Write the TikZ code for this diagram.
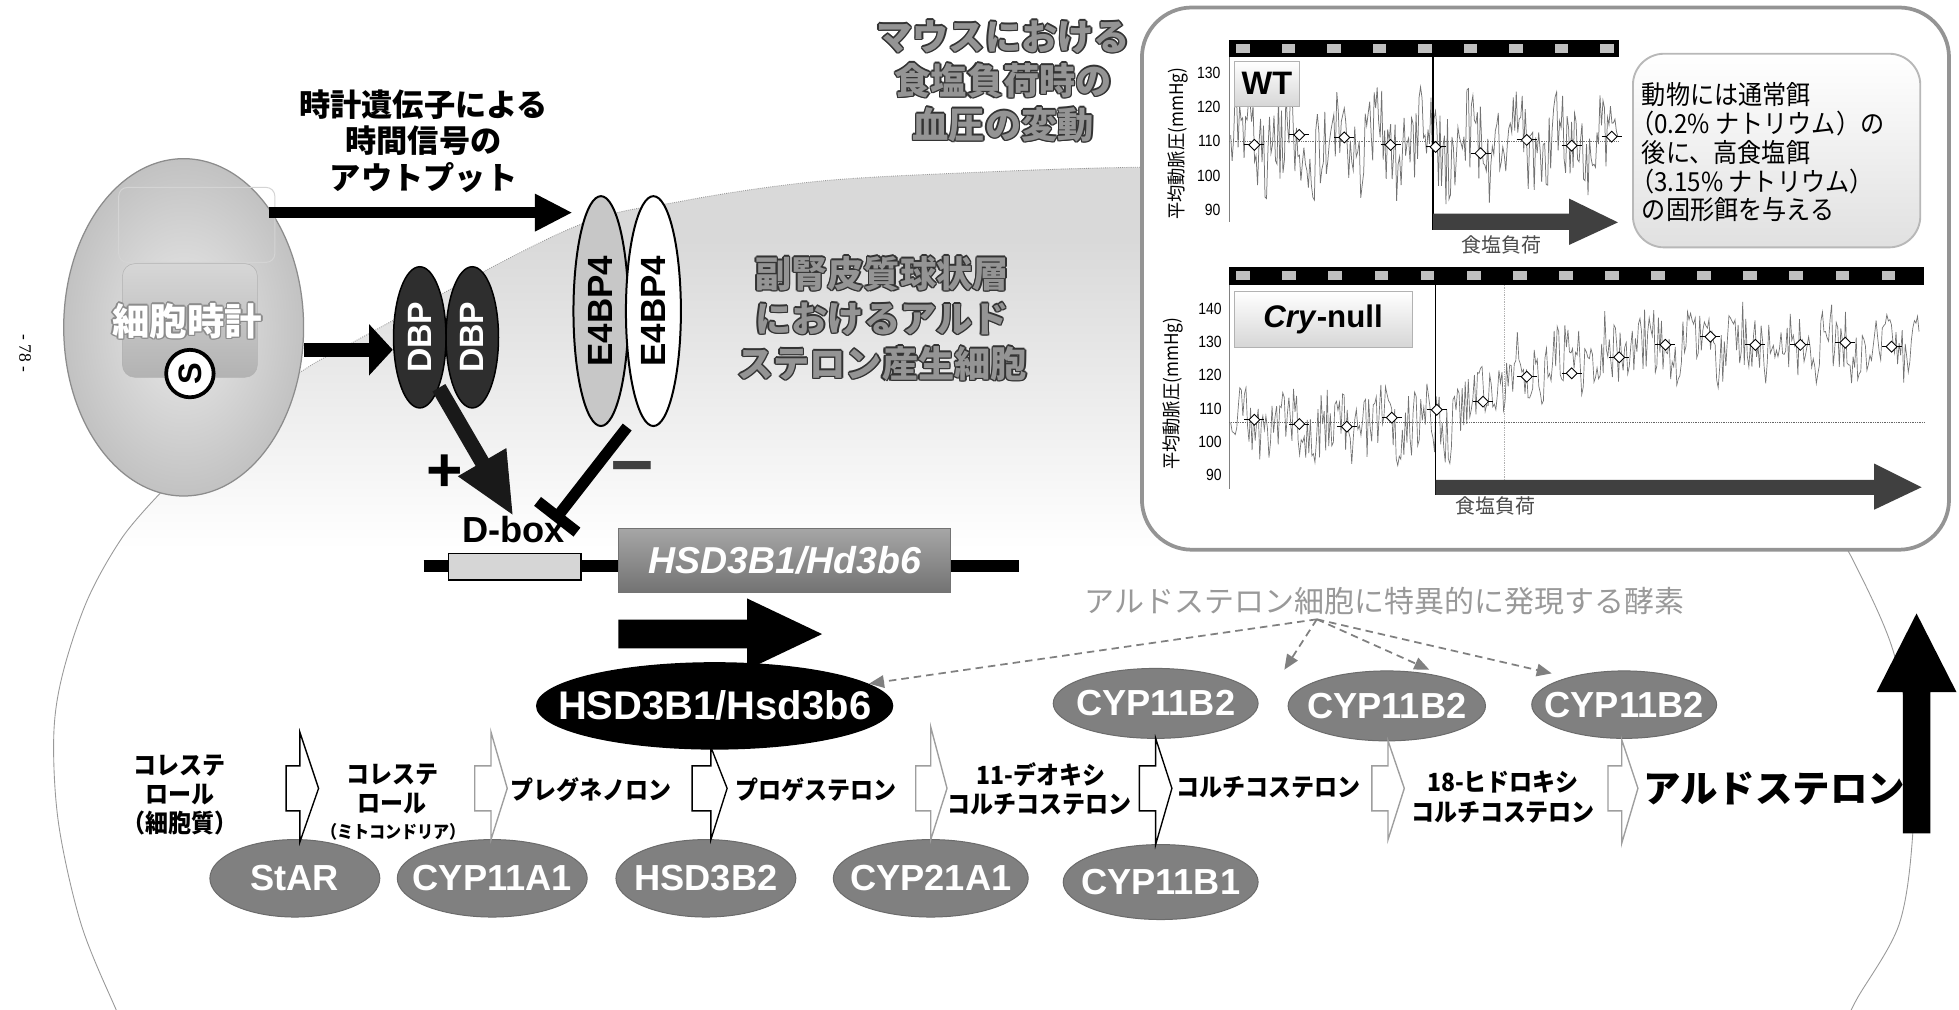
\documentclass[tikz,border=0pt]{standalone}
\usepackage{fontspec}
\setmainfont{Liberation Sans}
\newfontfamily\jp{Noto Sans CJK JP}
\newfontfamily\jpc{Noto Sans CJK JP}[FakeStretch=0.92]
\newfontfamily\latc{Liberation Sans}[FakeStretch=0.86]
\newfontfamily\pageserif{Liberation Serif}
\usetikzlibrary{arrows.meta,shapes.geometric,calc}

\newcommand{\fsz}[1]{\fontsize{#1}{#1}\selectfont}

% text with a thin coloured rim: #1 font, #2 fill colour, #3 rim colour, #4 name, #5 position, #6 text
\newcommand{\outlinedtext}[6]{%
  \foreach \k/\dx/\dy in {a/-1.2/0,b/1.2/0,c/0/-1.2,d/0/1.2,e/-0.85/-0.85,f/0.85/-0.85,g/-0.85/0.85,h/0.85/0.85}{%
    \node[font=#1, text=#3, align=center, inner sep=0pt] (#4-\k) at ($(#5)+(\dx,\dy)$) {#6};}%
  \node[font=#1, text=#2, align=center, inner sep=0pt] (#4) at (#5) {#6};}

% open block arrow of one synthesis step: #1 tail x, #2 head base x, #3 tip x, #4 head top y, #5 head bottom y, #6 colour
\newcommand{\steparrow}[6]{%
  \draw[draw=#6, fill=white, line width=1.1pt] (#1,613) -- (#2,613) -- (#2,#4) -- (#3,631) -- (#2,#5) -- (#2,649) -- (#1,649) -- cycle;}

\begin{document}
\begin{tikzpicture}[x=1pt, y=-1pt,
  cellline/.style={draw=black!40, line width=0.7pt},
  enz/.style={ellipse, fill=black!50, draw=black!58, line width=0.8pt, inner sep=0pt},
  enztext/.style={font=\bfseries\fsz{29}, text=white, inner sep=0pt},
  steplbl/.style={font=\jpc\bfseries\fsz{20}, inner sep=0pt},
  fatline/.style={draw=black, line width=9pt},
  dasharrow/.style={draw=black!50, line width=1.4pt, dash pattern=on 6pt off 4pt, -{Triangle[length=12pt,width=10pt,fill=black!50]}},
  ticklbl/.style={font=\latc\fsz{13}, anchor=east, inner sep=0pt},
  ylbl/.style={font=\jpc\fsz{15}, rotate=90, inner sep=0pt},
  bpmark/.style={diamond, draw=black, fill=white, line width=0.7pt, minimum size=9pt, inner sep=0pt},
  saltlbl/.style={font=\jp\fsz{16}, text=black!70, inner sep=0pt},
  dbpnode/.style={ellipse, minimum width=42pt, minimum height=113pt, inner sep=0pt, fill=black!82, draw=black, line width=1.2pt},
  e4node/.style={ellipse, minimum width=44pt, minimum height=184pt, inner sep=0pt, draw=black, line width=1.6pt},
  vlabel/.style={rotate=90, font=\bfseries\fsz{27}, inner sep=0pt}
]

\useasboundingbox (0,0) rectangle (1568,808);
\fill[white] (0,0) rectangle (1568,808);

% ---------- adrenal cell body ----------
\begin{scope}
  \clip plot[smooth cycle, tension=0.55] coordinates {(546,161) (656,145) (780,138) (903,134) (1100,136) (1300,170) (1430,300) (1483,448) (1515,520) (1530,600) (1531,667) (1520,740) (1486,800) (1400,950) (786,1050) (150,950) (92,806) (65,740) (47,660) (43,590) (50,540) (70,480) (98,430) (128,395) (180,335) (240,298) (275,278) (454,184)};
  \fill[black!15] (0,100) rectangle (1568,190);
  \shade[top color=black!15, bottom color=white] (0,190) rectangle (1568,440);
\end{scope}
\draw[cellline] plot[smooth, tension=0.55] coordinates {(104,830) (92,806) (65,740) (47,660) (43,590) (50,540) (70,480) (98,430) (128,395)};
\draw[cellline, densely dotted] plot[smooth, tension=0.55] coordinates {(128,395) (180,335) (240,298) (275,278) (454,184) (546,161) (656,145) (780,138) (903,134) (1000,134)};
\draw[cellline] plot[smooth, tension=0.55] coordinates {(1465,420) (1483,448) (1515,520) (1530,600) (1531,667) (1520,740) (1486,800) (1474,825)};

% page number
\node[font=\pageserif\fsz{14}, rotate=-90] (pgno) at (20,283) {- 78 -};

% ---------- cellular clock ----------
\node[ellipse, minimum width=192pt, minimum height=270pt, inner sep=0pt, draw=black!45, line width=1pt, inner color=black!8, outer color=black!24] (clock) at (147,262) {};
\draw[black!17, line width=0.8pt, rounded corners=7pt] (95,150) rectangle (220,210);
\node[rectangle, rounded corners=10pt, minimum width=108pt, minimum height=91pt, inner sep=0pt, draw=black!30, top color=black!16, bottom color=black!30] (clockbox) at (152,256.5) {};
\outlinedtext{\jp\bfseries\fsz{30}}{white}{black!45}{clocktxt}{150,257}{細胞時計}
\node[circle, draw=black, line width=3pt, fill=white, minimum size=38pt, inner sep=0pt, font=\bfseries\fsz{26}, rotate=90] (scirc) at (152,299) {S};

% ---------- titles ----------
\node[font=\jp\bfseries\fontsize{25}{29.5}\selectfont, align=center, inner sep=0pt] (t1) at (339,113) {時計遺伝子による\\時間信号の\\アウトプット};
\outlinedtext{\jp\bfseries\fontsize{29}{35.3}\selectfont}{black!42}{black!80}{t2}{803,65}{マウスにおける\\食塩負荷時の\\血圧の変動}
\outlinedtext{\jp\bfseries\fontsize{29}{36}\selectfont}{black!42}{black!80}{t3}{706,255}{副腎皮質球状層\\におけるアルド\\ステロン産生細胞}

% ---------- clock output factors ----------
\node[dbpnode] (dbp1) at (336,270) {};
\node[dbpnode] (dbp2) at (378,270) {};
\node[vlabel, text=white] (dbp1t) at (dbp1) {DBP};
\node[vlabel, text=white] (dbp2t) at (dbp2) {DBP};

\node[e4node, fill=black!22] (e4a) at (481,249) {};
\node[e4node, fill=white] (e4b) at (523,249) {};
\node[vlabel, font=\bfseries\fsz{28}] (e4at) at (e4a) {E4BP4};
\node[vlabel, font=\bfseries\fsz{28}] (e4bt) at (e4b) {E4BP4};

\draw[fatline, -{Triangle[length=30pt,width=28pt]}] ([yshift=-4pt]clock.north east) -- ([yshift=-4pt]clock.north east -| e4a.west);
\draw[fatline, line width=11pt, -{Triangle[length=19pt,width=40pt]}] ([yshift=-18pt]clock.east) -- ([yshift=-18pt]clock.east -| dbp1.west);

% ---------- D-box regulation ----------
\node[font=\bfseries\fsz{29}, inner sep=0pt] (dboxlbl) at (411,424) {D-box};
\node[font=\bfseries\fsz{50}, inner sep=0pt] (plus) at (356,379) {+};
\node[font=\bfseries\fsz{60}, text=black!75, inner sep=0pt] (minus) at (506,381) {−};
\draw[draw=black!90, line width=12pt, -{Triangle[length=50pt,width=41pt]}] (dbp1.south east) -- (dboxlbl.north);
\draw[line width=9pt, -{Bar[width=40pt]}] ($(e4a.south)!0.5!(e4b.south)$) -- ([xshift=-9pt,yshift=-4pt]dboxlbl.north east);

% ---------- gene ----------
\coordinate (dnaL) at (339,453);
\coordinate (dnaR) at (816,453);
\draw[line width=9pt] (dnaL) -- (dnaR);
\node[draw=black, line width=1.3pt, fill=black!16, minimum width=106pt, minimum height=21pt, inner sep=0pt] (dbox) at (412,453.5) {};
\node[draw=black!55, line width=1pt, top color=black!35, bottom color=black!55, minimum width=266pt, minimum height=51pt, inner sep=0pt] (gene) at (628,448.5) {};
\node[font=\bfseries\itshape\fsz{30}, text=white, inner sep=0pt] (genet) at (gene) {HSD3B1/Hd3b6};
\fill[black] (495,496) -- (598,496) -- (598,479) -- (658,507.5) -- (598,536) -- (598,519) -- (495,519) -- cycle;

\node[ellipse, fill=black, minimum width=286pt, minimum height=70pt, inner sep=0pt] (hsd3b1) at (572,565) {};
\node[font=\bfseries\fsz{32}, text=white, inner sep=0pt] (hsd3b1t) at (hsd3b1) {HSD3B1/Hsd3b6};

% ---------- zona glomerulosa specific enzymes ----------
\node[font=\jp\fsz{24}, text=black!40] (enzlbl) at (1108,481) {アルドステロン細胞に特異的に発現する酵素};
\node[enz, minimum width=164pt, minimum height=56pt] (b2a) at (925,563) {};
\node[enz, minimum width=158pt, minimum height=56pt] (b2b) at (1110,565) {};
\node[enz, minimum width=148pt, minimum height=54pt] (b2c) at (1300,564) {};
\node[enztext] (b2at) at (b2a) {CYP11B2};
\node[enztext] (b2bt) at (b2b) {CYP11B2};
\node[enztext] (b2ct) at (b2c) {CYP11B2};
\coordinate (hub) at ([xshift=-54pt]enzlbl.south);
\coordinate (tb1) at (1028,536);
\coordinate (tb2) at (1144,536);
\coordinate (tb3) at (1242,539);
\draw[dasharrow] (hub) -- (hsd3b1);
\draw[dasharrow] (hub) -- (tb1);
\draw[dasharrow] (hub) -- (tb2);
\draw[dasharrow] (hub) -- (tb3);

% ---------- steroid pathway ----------
\node[enz, minimum width=136pt, minimum height=62pt] (star) at (236,703) {};
\node[enz, minimum width=152pt, minimum height=62pt] (cyp11a1) at (394,703) {};
\node[enz, minimum width=144pt, minimum height=62pt] (hsd3b2) at (565,703) {};
\node[enz, minimum width=156pt, minimum height=62pt] (cyp21a1) at (745,703) {};
\node[enz, minimum width=156pt, minimum height=60pt] (cyp11b1) at (929,706) {};
\node[enztext] (start) at (star) {StAR};
\node[enztext] (cyp11a1t) at (cyp11a1) {CYP11A1};
\node[enztext] (hsd3b2t) at (hsd3b2) {HSD3B2};
\node[enztext] (cyp21a1t) at (cyp21a1) {CYP21A1};
\node[enztext] (cyp11b1t) at (cyp11b1) {CYP11B1};

\steparrow{229}{240}{255}{586}{674}{black}
\steparrow{380}{393}{406}{586}{672}{black!38}
\steparrow{554}{569}{582}{598}{672}{black}
\steparrow{733}{745}{758}{582}{672}{black!38}
\steparrow{912}{925}{938}{591}{676}{black}
\steparrow{1098}{1111}{1124}{593}{672}{black!38}
\steparrow{1287}{1298}{1311}{592}{675}{black!38}

\node[steplbl] (s0a) at (144,613) {コレステ};
\node[steplbl] (s0b) at (144,636) {ロール};
\node[steplbl] (s0c) at (144,659) {（細胞質）};
\node[steplbl] (s1a) at (314,620) {コレステ};
\node[steplbl] (s1b) at (314,643) {ロール};
\node[steplbl, font=\jpc\bfseries\fsz{14}] (s1c) at (315,666) {（ミトコンドリア）};
\node[steplbl] (s2) at (473,632) {プレグネノロン};
\node[steplbl] (s3) at (653,632) {プロゲステロン};
\node[steplbl] (s4a) at (833,620) {11-デオキシ};
\node[steplbl] (s4b) at (832,644) {コルチコステロン};
\node[steplbl] (s5) at (1015,630) {コルチコステロン};
\node[steplbl] (s6a) at (1203,626) {18-ヒドロキシ};
\node[steplbl] (s6b) at (1203,650) {コルチコステロン};
\node[font=\jp\bfseries\fsz{30}, inner sep=0pt] (aldo) at (1420,631) {アルドステロン};

\fill[black] (1523,667) -- (1523,554) -- (1502,554) -- (1534,491) -- (1566,554) -- (1545,554) -- (1545,667) -- cycle;

% ---------- blood pressure panel ----------
\node[rectangle, rounded corners=40pt, draw=black!42, line width=3pt, fill=white, minimum width=646pt, minimum height=434pt, inner sep=0pt] (panel) at (1237,223) {};

% wild type
\fill[black] (984,32) rectangle (1296,46);
\foreach \i in {0,...,8} {\fill[black!25] ({995+36.4*\i-5.5},35.5) rectangle ({995+36.4*\i+5.5},42.5);}
\draw[black!50, line width=0.8pt] (984,46) -- (984,178);
\node[ticklbl] (wt130) at (977,58) {130};
\node[ticklbl] (wt120) at (977,85.5) {120};
\node[ticklbl] (wt110) at (977,113) {110};
\node[ticklbl] (wt100) at (977,140.5) {100};
\node[ticklbl] (wt90) at (977,168) {90};
\node[ylbl] (wty) at (943,115) {平均動脈圧(mmHg)};
\draw[densely dotted, black!55] (984,113) -- (1296,113);
\pgfmathsetseed{7}
\draw[black!55, line width=0.6pt] plot[domain=985:1295, samples=260] (\x, {113 - 2.75*(-1 + 5*sin(9.89*(\x-985)) + 12.5*rand)});
\node[rectangle, draw=black!30, top color=white, bottom color=black!16, minimum width=52pt, minimum height=36pt, inner sep=0pt] (wtbox) at (1014,67) {};
\node[font=\bfseries\fsz{26}, inner sep=0pt] (wtt) at (wtbox) {WT};
\draw[black, line width=1pt] (1147,46) -- (1147,184);
\fill[black!75] (1147,171) -- (1256,171) -- (1256,159) -- (1295,178) -- (1256,196) -- (1256,184) -- (1147,184) -- cycle;
\node[saltlbl] (wtsalt) at (1202,196) {食塩負荷};
\foreach \x/\y [count=\n] in {1004/116, 1040/108, 1076/110, 1113/116, 1149/117.6, 1185/122.7, 1222/112, 1258/116.6, 1290/109.4} {
  \draw[black, line width=0.8pt] (\x-8,\y) -- (\x+8,\y);
  \node[bpmark] (wtm\n) at (\x,\y) {};}

\node[rectangle, rounded corners=25pt, draw=black!28, line width=1.5pt, top color=white, bottom color=black!12, minimum width=230pt, minimum height=155pt, inner sep=0pt] (info) at (1422,120.5) {};
\node[font=\jpc\fontsize{21}{23}\selectfont, align=left, anchor=west, inner sep=0pt] (infot) at (1314,122) {動物には通常餌\\\kern-0.45em（0.2\% ナトリウム）の\\後に、高食塩餌\\\kern-0.45em（3.15\% ナトリウム）\\の固形餌を与える};

% Cry-null
\fill[black] (984,213.5) rectangle (1540,228);
\foreach \i in {0,...,14} {\fill[black!25] ({995+36.9*\i-5.5},217) rectangle ({995+36.9*\i+5.5},224.5);}
\draw[black!50, line width=0.8pt] (984,228) -- (984,391);
\node[ticklbl] (cr140) at (978,247) {140};
\node[ticklbl] (cr130) at (978,274) {130};
\node[ticklbl] (cr120) at (978,300) {120};
\node[ticklbl] (cr110) at (978,327) {110};
\node[ticklbl] (cr100) at (978,354) {100};
\node[ticklbl] (cr90) at (978,380) {90};
\node[ylbl] (cry) at (939,315) {平均動脈圧(mmHg)};
\draw[densely dotted, black!60] (984,338) -- (1540,338);
\draw[densely dotted, black!30] (1204,228) -- (1204,390);
\pgfmathsetseed{11}
\draw[black!55, line width=0.55pt] plot[domain=985:1536, samples=450] (\x, {327 - 2.67*(-4.5 + 24*(1-exp(-max(0,\x-1160)/55)) + 3*sin(9.89*(\x-985)) + 10*rand)});
\node[rectangle, draw=black!30, top color=white, bottom color=black!16, minimum width=142pt, minimum height=45pt, inner sep=0pt] (crybox) at (1059,255.5) {};
\node[font=\bfseries\fsz{25}, inner sep=0pt] (cryt) at (crybox) {\textit{Cry}-null};
\draw[black, line width=1pt] (1149,228) -- (1149,396);
\fill[black!75] (1149,384) -- (1500,384) -- (1500,371) -- (1538,390) -- (1500,408) -- (1500,396) -- (1149,396) -- cycle;
\node[saltlbl] (crysalt) at (1197,405) {食塩負荷};
\foreach \x/\y [count=\n] in {1004/336, 1040/339.4, 1078/341.5, 1114/334.3, 1150/328, 1187/321.5, 1222/301.5, 1258/298.8, 1296/286, 1333/276, 1369/269.5, 1405/276, 1441/276, 1477/274.3, 1514/277.5} {
  \draw[black, line width=0.8pt] (\x-8,\y) -- (\x+8,\y);
  \node[bpmark] (crm\n) at (\x,\y) {};}

\end{tikzpicture}
\end{document}
